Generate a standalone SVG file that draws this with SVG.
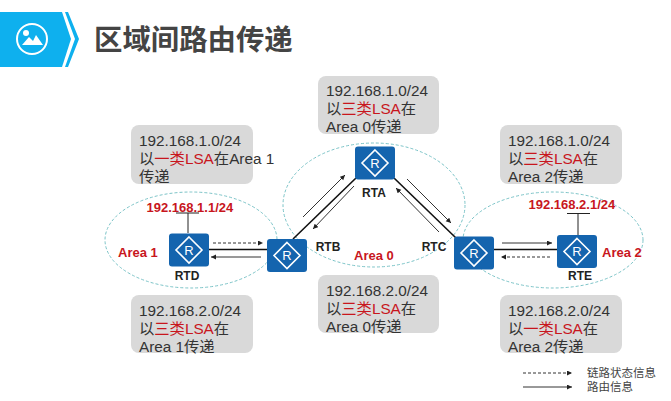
<svg xmlns="http://www.w3.org/2000/svg" width="671" height="401" viewBox="0 0 671 401">
<style>
text{font-family:"Liberation Sans","Noto Sans CJK SC",sans-serif}
.box{fill:#d9d9d9}
.t{font-size:15.3px;fill:#333}
.r{fill:#c8161d}
.lab{font-size:12px;font-weight:700;fill:#222;text-anchor:middle}
.area{font-size:13px;font-weight:700;fill:#c8161d}
.ip{font-size:13px;font-weight:700;fill:#c8161d}
.ell{fill:none;stroke:#7cc4c8;stroke-width:1;stroke-dasharray:3 2}
.thick{stroke:#111;stroke-width:1.6;fill:none}
.thin{stroke:#333;stroke-width:1;fill:none;marker-end:url(#a)}
.dash{stroke:#333;stroke-width:1;fill:none;stroke-dasharray:3 2;marker-end:url(#a)}
.stem{stroke:#222;stroke-width:1;fill:none}
.rb{fill:#1464ae}
.rd{fill:none;stroke:#fff;stroke-width:1.6}
.rt{font-size:13px;fill:#fff;text-anchor:middle}
</style>
<defs>
<marker id="a" markerWidth="6" markerHeight="6" refX="5" refY="2.5" orient="auto"><path d="M0 0L5 2.500L0 5z" fill="#222"/></marker>
<g id="router">
<rect class="rb" x="-20" y="-16.500" width="40" height="33" rx="3"/>
<path class="rd" d="M0 -13L13 0L0 13L-13 0z"/>
<text class="rt" x="0" y="4.500">R</text>
</g>
</defs>
<g id="header">
<path d="M0 12H62L71 39L62 67H0z" fill="#0eb0ee"/>
<path d="M65 12H68L79 39L68 67H65L75 39z" fill="#0eb0ee"/>
<circle cx="32" cy="39" r="15" fill="none" stroke="#fff" stroke-width="2"/>
<circle cx="26" cy="33" r="3" fill="#fff"/>
<path d="M22 45L29 37L33 41L36 35L43 45z" fill="#fff"/>
<text x="94" y="50" font-size="28.400" font-weight="700" fill="#444">区域间路由传递</text>
</g>
<g id="areas">
<ellipse class="ell" cx="191" cy="240" rx="86" ry="48"/>
<ellipse class="ell" cx="374" cy="205" rx="91" ry="62"/>
<ellipse class="ell" cx="553" cy="240" rx="90" ry="48"/>
</g>
<g id="connectors">
<path class="thick" d="M209 249.500H267"/>
<path class="thick" d="M293 239L356 178"/>
<path class="thick" d="M394 178L456 238"/>
<path class="thick" d="M494 249.500H557"/>
<path class="stem" d="M188 213V233M176 213H199"/>
<path class="stem" d="M578 213.500V235M567 213.500H590"/>
<path class="dash" d="M213 243H263"/>
<path class="thin" d="M261 257H211"/>
<path class="thin" d="M303 217L345 175"/>
<path class="thin" d="M354 186L313 229"/>
<path class="thin" d="M407 179L451 223"/>
<path class="thin" d="M439 232L396 188"/>
<path class="thin" d="M502 243H552"/>
<path class="dash" d="M550 257H501"/>
<path class="dash" d="M523 373H572"/>
<path class="thin" d="M523 387H572"/>
</g>
<g id="box-rta"><rect class="box" x="318" y="76" width="121" height="58" rx="8"/>
<text class="t" x="326" y="96">192.168.1.0/24</text><text class="t" x="326" y="114">以<tspan class="r">三类LSA</tspan>在</text><text class="t" x="326" y="132">Area 0传递</text></g>
<g id="box-a1"><rect class="box" x="131" y="125" width="122" height="59" rx="8"/>
<text class="t" x="139" y="146">192.168.1.0/24</text><text class="t" x="139" y="164">以<tspan class="r">一类LSA</tspan>在Area 1</text><text class="t" x="139" y="182">传递</text></g>
<g id="box-a2"><rect class="box" x="500" y="125" width="122" height="59" rx="8"/>
<text class="t" x="508" y="146">192.168.1.0/24</text><text class="t" x="508" y="164">以<tspan class="r">三类LSA</tspan>在</text><text class="t" x="508" y="182">Area 2传递</text></g>
<g id="box-b1"><rect class="box" x="131" y="295" width="122" height="58" rx="8"/>
<text class="t" x="139" y="316">192.168.2.0/24</text><text class="t" x="139" y="334">以<tspan class="r">三类LSA</tspan>在</text><text class="t" x="139" y="352">Area 1传递</text></g>
<g id="box-b0"><rect class="box" x="318" y="275" width="121" height="58" rx="8"/>
<text class="t" x="326" y="296">192.168.2.0/24</text><text class="t" x="326" y="314">以<tspan class="r">三类LSA</tspan>在</text><text class="t" x="326" y="332">Area 0传递</text></g>
<g id="box-b2"><rect class="box" x="500" y="295" width="122" height="58" rx="8"/>
<text class="t" x="508" y="316">192.168.2.0/24</text><text class="t" x="508" y="334">以<tspan class="r">一类LSA</tspan>在</text><text class="t" x="508" y="352">Area 2传递</text></g>
<g id="RTA"><use href="#router" x="375" y="163"/><text class="lab" x="374" y="197">RTA</text></g>
<g id="RTB"><use href="#router" x="287" y="255.500"/><text class="lab" x="328" y="251">RTB</text></g>
<g id="RTC"><use href="#router" x="474" y="253"/><text class="lab" x="434" y="251">RTC</text></g>
<g id="RTD"><use href="#router" x="189" y="250"/><text class="lab" x="187" y="280">RTD</text></g>
<g id="RTE"><use href="#router" x="577" y="251.500"/><text class="lab" x="580" y="280">RTE</text></g>
<g id="labels">
<text class="ip" x="146.500" y="212">192.168.1.1/24</text>
<text class="ip" x="528.500" y="209">192.168.2.1/24</text>
<text class="area" x="118" y="257">Area 1</text>
<text class="area" x="354" y="260">Area 0</text>
<text class="area" x="602" y="257">Area 2</text>
</g>
<g id="legend" font-size="11.500" fill="#444">
<text x="587" y="377">链路状态信息</text>
<text x="587" y="391">路由信息</text>
</g>
</svg>
